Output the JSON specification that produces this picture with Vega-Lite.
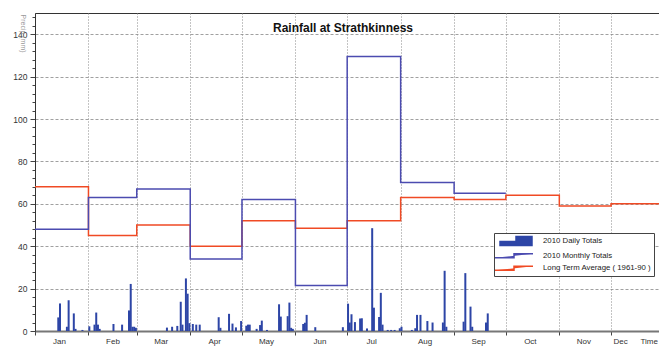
{
  "$schema": "https://vega.github.io/schema/vega-lite/v6.json",
  "autosize": "none",
  "padding": {"left": 35, "top": 13, "right": 0, "bottom": 16},
  "width": 624,
  "height": 318,
  "background": "white",
  "title": {"text": "Rainfall at Strathkinness", "font": "Liberation Sans", "fontSize": 12, "fontWeight": "bold", "color": "#111", "anchor": "middle", "baseline": "alphabetic", "offset": -31, "dx": -4},
  "config": {
    "view": {"stroke": "#333", "strokeWidth": 1},
    "font": "Liberation Sans",
    "legend": {"labelFont": "Liberation Sans Narrow, Liberation Sans", "labelFontSize": 7.8, "labelColor": "#222"}
  },
  "data": {
    "format": {"parse": {"d": "date:'%Y-%m-%d'"}},
    "values": [
      {"d": "2010-01-14", "v": 6.4, "s": "2010 Daily Totals"},
      {"d": "2010-01-15", "v": 13, "s": "2010 Daily Totals"},
      {"d": "2010-01-19", "v": 2, "s": "2010 Daily Totals"},
      {"d": "2010-01-20", "v": 14.5, "s": "2010 Daily Totals"},
      {"d": "2010-01-23", "v": 8.3, "s": "2010 Daily Totals"},
      {"d": "2010-01-24", "v": 1, "s": "2010 Daily Totals"},
      {"d": "2010-01-28", "v": 0.5, "s": "2010 Daily Totals"},
      {"d": "2010-02-01", "v": 2.2, "s": "2010 Daily Totals"},
      {"d": "2010-02-04", "v": 3, "s": "2010 Daily Totals"},
      {"d": "2010-02-05", "v": 8.7, "s": "2010 Daily Totals"},
      {"d": "2010-02-06", "v": 3, "s": "2010 Daily Totals"},
      {"d": "2010-02-07", "v": 1, "s": "2010 Daily Totals"},
      {"d": "2010-02-15", "v": 3.3, "s": "2010 Daily Totals"},
      {"d": "2010-02-20", "v": 3, "s": "2010 Daily Totals"},
      {"d": "2010-02-24", "v": 9.7, "s": "2010 Daily Totals"},
      {"d": "2010-02-25", "v": 22.2, "s": "2010 Daily Totals"},
      {"d": "2010-02-26", "v": 2, "s": "2010 Daily Totals"},
      {"d": "2010-02-27", "v": 2, "s": "2010 Daily Totals"},
      {"d": "2010-02-28", "v": 1.5, "s": "2010 Daily Totals"},
      {"d": "2010-03-18", "v": 1.6, "s": "2010 Daily Totals"},
      {"d": "2010-03-21", "v": 2, "s": "2010 Daily Totals"},
      {"d": "2010-03-24", "v": 2.4, "s": "2010 Daily Totals"},
      {"d": "2010-03-26", "v": 13.8, "s": "2010 Daily Totals"},
      {"d": "2010-03-27", "v": 3, "s": "2010 Daily Totals"},
      {"d": "2010-03-29", "v": 24.8, "s": "2010 Daily Totals"},
      {"d": "2010-03-30", "v": 17.6, "s": "2010 Daily Totals"},
      {"d": "2010-03-31", "v": 3.7, "s": "2010 Daily Totals"},
      {"d": "2010-04-02", "v": 3.3, "s": "2010 Daily Totals"},
      {"d": "2010-04-04", "v": 3, "s": "2010 Daily Totals"},
      {"d": "2010-04-06", "v": 3, "s": "2010 Daily Totals"},
      {"d": "2010-04-17", "v": 6.5, "s": "2010 Daily Totals"},
      {"d": "2010-04-18", "v": 1.5, "s": "2010 Daily Totals"},
      {"d": "2010-04-23", "v": 8.1, "s": "2010 Daily Totals"},
      {"d": "2010-04-25", "v": 3.5, "s": "2010 Daily Totals"},
      {"d": "2010-04-27", "v": 1.7, "s": "2010 Daily Totals"},
      {"d": "2010-04-30", "v": 4.7, "s": "2010 Daily Totals"},
      {"d": "2010-05-03", "v": 2.5, "s": "2010 Daily Totals"},
      {"d": "2010-05-04", "v": 3, "s": "2010 Daily Totals"},
      {"d": "2010-05-05", "v": 3, "s": "2010 Daily Totals"},
      {"d": "2010-05-09", "v": 1, "s": "2010 Daily Totals"},
      {"d": "2010-05-11", "v": 2.8, "s": "2010 Daily Totals"},
      {"d": "2010-05-12", "v": 4.9, "s": "2010 Daily Totals"},
      {"d": "2010-05-15", "v": 0.5, "s": "2010 Daily Totals"},
      {"d": "2010-05-22", "v": 12.6, "s": "2010 Daily Totals"},
      {"d": "2010-05-23", "v": 6.8, "s": "2010 Daily Totals"},
      {"d": "2010-05-27", "v": 7, "s": "2010 Daily Totals"},
      {"d": "2010-05-28", "v": 13.4, "s": "2010 Daily Totals"},
      {"d": "2010-05-29", "v": 1.5, "s": "2010 Daily Totals"},
      {"d": "2010-05-30", "v": 1, "s": "2010 Daily Totals"},
      {"d": "2010-06-05", "v": 3.3, "s": "2010 Daily Totals"},
      {"d": "2010-06-06", "v": 3.9, "s": "2010 Daily Totals"},
      {"d": "2010-06-07", "v": 7.6, "s": "2010 Daily Totals"},
      {"d": "2010-06-12", "v": 1.8, "s": "2010 Daily Totals"},
      {"d": "2010-06-28", "v": 1.8, "s": "2010 Daily Totals"},
      {"d": "2010-07-01", "v": 12.9, "s": "2010 Daily Totals"},
      {"d": "2010-07-02", "v": 4, "s": "2010 Daily Totals"},
      {"d": "2010-07-03", "v": 7.9, "s": "2010 Daily Totals"},
      {"d": "2010-07-05", "v": 4.2, "s": "2010 Daily Totals"},
      {"d": "2010-07-08", "v": 5.9, "s": "2010 Daily Totals"},
      {"d": "2010-07-09", "v": 6, "s": "2010 Daily Totals"},
      {"d": "2010-07-12", "v": 1.2, "s": "2010 Daily Totals"},
      {"d": "2010-07-15", "v": 48.5, "s": "2010 Daily Totals"},
      {"d": "2010-07-16", "v": 11, "s": "2010 Daily Totals"},
      {"d": "2010-07-19", "v": 6.6, "s": "2010 Daily Totals"},
      {"d": "2010-07-20", "v": 18, "s": "2010 Daily Totals"},
      {"d": "2010-07-21", "v": 3, "s": "2010 Daily Totals"},
      {"d": "2010-07-24", "v": 0.5, "s": "2010 Daily Totals"},
      {"d": "2010-07-26", "v": 0.5, "s": "2010 Daily Totals"},
      {"d": "2010-07-28", "v": 0.5, "s": "2010 Daily Totals"},
      {"d": "2010-07-31", "v": 1.3, "s": "2010 Daily Totals"},
      {"d": "2010-08-01", "v": 2, "s": "2010 Daily Totals"},
      {"d": "2010-08-07", "v": 0.5, "s": "2010 Daily Totals"},
      {"d": "2010-08-09", "v": 1.3, "s": "2010 Daily Totals"},
      {"d": "2010-08-10", "v": 7.6, "s": "2010 Daily Totals"},
      {"d": "2010-08-12", "v": 7.6, "s": "2010 Daily Totals"},
      {"d": "2010-08-16", "v": 4.7, "s": "2010 Daily Totals"},
      {"d": "2010-08-19", "v": 4, "s": "2010 Daily Totals"},
      {"d": "2010-08-25", "v": 4, "s": "2010 Daily Totals"},
      {"d": "2010-08-26", "v": 28.4, "s": "2010 Daily Totals"},
      {"d": "2010-08-27", "v": 2, "s": "2010 Daily Totals"},
      {"d": "2010-09-06", "v": 4.4, "s": "2010 Daily Totals"},
      {"d": "2010-09-07", "v": 27.3, "s": "2010 Daily Totals"},
      {"d": "2010-09-10", "v": 11.5, "s": "2010 Daily Totals"},
      {"d": "2010-09-11", "v": 2, "s": "2010 Daily Totals"},
      {"d": "2010-09-19", "v": 4, "s": "2010 Daily Totals"},
      {"d": "2010-09-20", "v": 8.3, "s": "2010 Daily Totals"},
      {"d": "2010-01-01", "v": 48, "s": "2010 Monthly Totals"},
      {"d": "2010-02-01", "v": 63, "s": "2010 Monthly Totals"},
      {"d": "2010-03-01", "v": 67, "s": "2010 Monthly Totals"},
      {"d": "2010-04-01", "v": 34, "s": "2010 Monthly Totals"},
      {"d": "2010-05-01", "v": 62, "s": "2010 Monthly Totals"},
      {"d": "2010-06-01", "v": 21.5, "s": "2010 Monthly Totals"},
      {"d": "2010-07-01", "v": 129.5, "s": "2010 Monthly Totals"},
      {"d": "2010-08-01", "v": 70, "s": "2010 Monthly Totals"},
      {"d": "2010-09-01", "v": 65, "s": "2010 Monthly Totals"},
      {"d": "2010-10-01", "v": 65, "s": "2010 Monthly Totals"},
      {"d": "2010-01-01", "v": 68, "s": "Long Term Average ( 1961-90 )"},
      {"d": "2010-02-01", "v": 45, "s": "Long Term Average ( 1961-90 )"},
      {"d": "2010-03-01", "v": 50, "s": "Long Term Average ( 1961-90 )"},
      {"d": "2010-04-01", "v": 40, "s": "Long Term Average ( 1961-90 )"},
      {"d": "2010-05-01", "v": 52, "s": "Long Term Average ( 1961-90 )"},
      {"d": "2010-06-01", "v": 48.5, "s": "Long Term Average ( 1961-90 )"},
      {"d": "2010-07-01", "v": 52, "s": "Long Term Average ( 1961-90 )"},
      {"d": "2010-08-01", "v": 63, "s": "Long Term Average ( 1961-90 )"},
      {"d": "2010-09-01", "v": 62, "s": "Long Term Average ( 1961-90 )"},
      {"d": "2010-10-01", "v": 64, "s": "Long Term Average ( 1961-90 )"},
      {"d": "2010-11-01", "v": 59, "s": "Long Term Average ( 1961-90 )"},
      {"d": "2010-12-01", "v": 60, "s": "Long Term Average ( 1961-90 )"},
      {"d": "2010-12-31", "v": 60, "s": "Long Term Average ( 1961-90 )"}
    ]
  },
  "encoding": {
    "y": {
      "field": "v", "type": "quantitative",
      "scale": {"domain": [0, 150], "nice": false},
      "axis": {
        "values": [0,4,8,12,16,20,24,28,32,36,40,44,48,52,56,60,64,68,72,76,80,84,88,92,96,100,104,108,112,116,120,124,128,132,136,140,144,148],
        "labelExpr": "datum.value % 20 == 0 ? datum.label : ''",
        "grid": true,
        "gridColor": "#888",
        "gridDash": [3, 2],
        "gridWidth": 0.8,
        "gridOpacity": {"condition": {"test": "datum.value % 20 != 0 || datum.value == 0", "value": 0}, "value": 1},
        "tickSize": {"condition": {"test": "datum.value % 20 == 0", "value": 5}, "value": 3},
        "tickColor": "#444",
        "domainColor": "#333",
        "labelFontSize": 8.5,
        "labelColor": "#333",
        "labelPadding": 3,
        "title": "Precip (mm)",
        "titleAngle": 90,
        "titleX": -13,
        "titleY": 1,
        "titleAlign": "left",
        "titleBaseline": "middle",
        "titleFontSize": 7,
        "titleFontWeight": "normal",
        "titleColor": "#999"
      }
    },
    "color": {
      "field": "s", "type": "nominal",
      "scale": {"domain": ["2010 Daily Totals", "2010 Monthly Totals", "Long Term Average ( 1961-90 )"], "range": ["#2d45a6", "#4b4bb0", "#f04a24"]},
      "legend": {
        "orient": "none", "legendX": 459, "legendY": 220,
        "title": null,
        "strokeColor": "#444", "fillColor": "white",
        "padding": 2,
        "symbolSize": 100, "symbolOffset": 14, "labelOffset": 21,
        "rowPadding": 0.5, "labelLimit": 300,
        "encode": {
          "symbols": {
            "update": {
              "shape": {"signal": "datum.value == '2010 Daily Totals' ? 'M-3.2,0.9V0.1H0V-0.9H3.2V0.9Z' : 'M-4.2,0.45H-0.4V-0.35H3.4'"},
              "fill": {"signal": "datum.value == '2010 Daily Totals' ? '#2d45a6' : 'transparent'"},
              "stroke": {"signal": "datum.value == '2010 Daily Totals' ? 'transparent' : (datum.value == '2010 Monthly Totals' ? '#4b4bb0' : '#f04a24')"},
              "strokeWidth": {"value": 1.5},
              "opacity": {"value": 1}
            }
          }
        }
      }
    }
  },
  "layer": [
    {
      "transform": [{"filter": "datum.s == '2010 Daily Totals'"}],
      "mark": {"type": "bar", "clip": true, "width": 2},
      "encoding": {
        "x": {
          "field": "d", "type": "temporal", "timeUnit": "yearmonthdate",
          "scale": {"domain": [{"year": 2010, "month": 1, "date": 1}, {"year": 2010, "month": 12, "date": 28, "hours": 19}]},
          "axis": {
            "values": [
              {"year": 2010, "month": 1, "date": 1}, {"year": 2010, "month": 2, "date": 1}, {"year": 2010, "month": 3, "date": 1},
              {"year": 2010, "month": 4, "date": 1}, {"year": 2010, "month": 5, "date": 1}, {"year": 2010, "month": 6, "date": 1},
              {"year": 2010, "month": 7, "date": 1}, {"year": 2010, "month": 8, "date": 1}, {"year": 2010, "month": 9, "date": 1},
              {"year": 2010, "month": 10, "date": 1}, {"year": 2010, "month": 11, "date": 1}, {"year": 2010, "month": 12, "date": 1}
            ],
            "format": "%b",
            "labelOffset": {"condition": {"test": "month(datum.value) == 11", "value": 9}, "value": 24},
            "labelFlush": false,
            "labelOverlap": false,
            "labelFontSize": 8,
            "labelColor": "#333",
            "labelPadding": 2,
            "grid": true,
            "gridColor": "#888",
            "gridDash": [1, 2],
            "gridWidth": 1,
            "tickSize": 4,
            "tickColor": "#444",
            "domainColor": "#777",
            "domainWidth": 2,
            "title": "Time",
            "titleX": 605,
            "titleY": 6,
            "titleAlign": "left",
            "titleBaseline": "top",
            "titleFontSize": 8,
            "titleFontWeight": "normal",
            "titleColor": "#333"
          }
        }
      }
    },
    {
      "transform": [{"filter": "datum.s == 'Long Term Average ( 1961-90 )'"}],
      "mark": {"type": "line", "interpolate": "step-after", "strokeWidth": 1.5, "clip": true},
      "encoding": {"x": {"field": "d", "type": "temporal"}}
    },
    {
      "transform": [{"filter": "datum.s == '2010 Monthly Totals'"}],
      "mark": {"type": "line", "interpolate": "step-after", "strokeWidth": 1.5, "clip": true},
      "encoding": {"x": {"field": "d", "type": "temporal"}}
    }
  ]
}
